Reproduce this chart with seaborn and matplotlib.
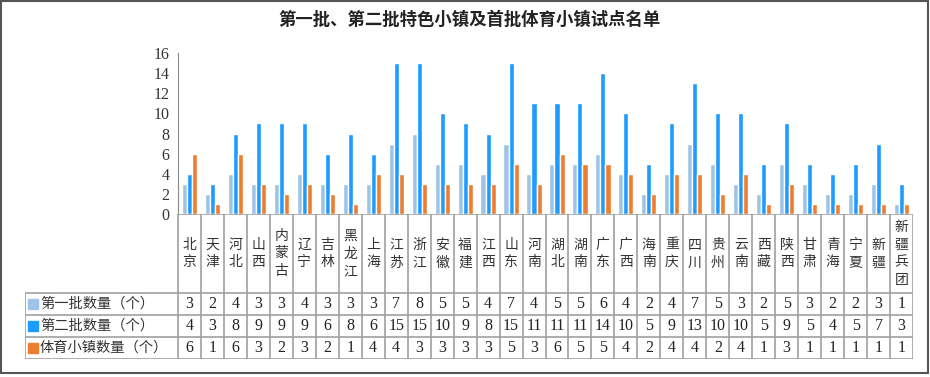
import matplotlib
matplotlib.use('Agg')
import matplotlib.pyplot as plt
import seaborn as sns
import pandas as pd
from matplotlib.patches import Rectangle

# ── Data ──────────────────────────────────────────────────────────────
provinces = ['北京', '天津', '河北', '山西', '内蒙古', '辽宁', '吉林', '黑龙江',
             '上海', '江苏', '浙江', '安徽', '福建', '江西', '山东', '河南',
             '湖北', '湖南', '广东', '广西', '海南', '重庆', '四川', '贵州',
             '云南', '西藏', '陕西', '甘肃', '青海', '宁夏', '新疆', '新疆兵团']
batch1 = [3, 2, 4, 3, 3, 4, 3, 3, 3, 7, 8, 5, 5, 4, 7, 4,
          5, 5, 6, 4, 2, 4, 7, 5, 3, 2, 5, 3, 2, 2, 3, 1]
batch2 = [4, 3, 8, 9, 9, 9, 6, 8, 6, 15, 15, 10, 9, 8, 15, 11,
          11, 11, 14, 10, 5, 9, 13, 10, 10, 5, 9, 5, 4, 5, 7, 3]
sports = [6, 1, 6, 3, 2, 3, 2, 1, 4, 4, 3, 3, 3, 3, 5, 3,
          6, 5, 5, 4, 2, 4, 4, 2, 4, 1, 3, 1, 1, 1, 1, 1]
series_names = ['第一批数量（个）', '第二批数量（个）', '体育小镇数量（个）']
yticks = [0, 2, 4, 6, 8, 10, 12, 14, 16]
title = '第一批、第二批特色小镇及首批体育小镇试点名单'

COLORS = ['#9DC3E6', '#1E9BFF', '#ED7D31']

df = pd.DataFrame({
    '省份': provinces * 3,
    '数量': batch1 + batch2 + sports,
    '系列': [s for s in series_names for _ in provinces],
})

sns.set_style('white')
plt.rcParams['font.family'] = ['Noto Sans CJK SC', 'DejaVu Sans']

W, H = 930, 377
fig = plt.figure(figsize=(W / 100, H / 100), dpi=100)

# pixel layout
x_axis_left, x_right = 178, 913
y_top, y_zero = 53, 214
tbl_left, tbl_bottom = 25, 359
hdr_bottom = 293
ncol = len(provinces)
col_w = (x_right - x_axis_left) / ncol

# ── Bar chart ─────────────────────────────────────────────────────────
ax = fig.add_axes([x_axis_left / W, 1 - y_zero / H,
                   (x_right - x_axis_left) / W, (y_zero - y_top) / H])
sns.barplot(data=df, x='省份', y='数量', hue='系列', palette=COLORS,
            width=0.66, saturation=1, legend=False, ax=ax)
ax.set_xlim(-0.5, ncol - 0.5)
ax.set_ylim(0, 16)
ax.set_yticks(yticks)
ax.set_yticklabels([str(v) for v in yticks], family='Liberation Serif',
                   fontsize=11.5, color='#333333')
ax.set_xticks([])
ax.set_xlabel('')
ax.set_ylabel('')
ax.tick_params(axis='y', direction='out', length=4, width=1, color='#888888', pad=2)
for s in ['top', 'right', 'bottom']:
    ax.spines[s].set_visible(False)
ax.spines['left'].set_color('#888888')
ax.patch.set_alpha(0)

# ── Data table ────────────────────────────────────────────────────────
lab_units = (x_axis_left - tbl_left) / col_w
tax = fig.add_axes([tbl_left / W, 1 - tbl_bottom / H,
                    (x_right - tbl_left) / W, (tbl_bottom - y_zero) / H])
tax.set_xlim(-0.5 - lab_units, ncol - 0.5)
tax.set_ylim(tbl_bottom - y_zero, 0)
tax.axis('off')

lc = '#A0A0A0'
hb = hdr_bottom - y_zero
th = tbl_bottom - y_zero
row_h = (th - hb) / 3
# horizontal lines
tax.plot([-0.5, ncol - 0.5], [0, 0], color=lc, lw=1.2)
for r in range(4):
    y = hb + r * row_h
    tax.plot([-0.5 - lab_units, ncol - 0.5], [y, y], color=lc, lw=1.2)
# vertical lines
for i in range(ncol + 1):
    tax.plot([i - 0.5, i - 0.5], [0, th], color=lc, lw=1.2)
tax.plot([-0.5 - lab_units] * 2, [hb, th], color=lc, lw=1.2)

# header: vertical province names
for i, name in enumerate(provinces):
    tax.text(i, hb / 2, '\n'.join(name), ha='center', va='center',
             fontsize=10, linespacing=1.35, color='#333333')

# rows
for r, (label, vals, c) in enumerate(zip(series_names, [batch1, batch2, sports], COLORS)):
    yc = hb + (r + 0.5) * row_h
    tax.plot([-0.5 - lab_units + 0.33], [yc], marker='s', ms=6.5, color=c,
             ls='none', clip_on=False)
    tax.text(-0.5 - lab_units + 0.65, yc, label, ha='left', va='center',
             fontsize=10.3, color='#333333')
    for i, v in enumerate(vals):
        tax.text(i, yc, str(v), ha='center', va='center',
                 family='Liberation Serif', fontsize=11.5, color='#222222')

# ── Title and frame ──────────────────────────────────────────────────
fig.text(470 / W, 1 - 20 / H, title, ha='center', va='center',
         fontsize=12.5, fontweight='bold', color='#222222')
fig.patches.append(Rectangle((1 / W, 1 - 373 / H), 927 / W, 372 / H,
                             transform=fig.transFigure, fill=False,
                             edgecolor='#555555', lw=1.5))

fig.savefig('out.png', dpi=100)
